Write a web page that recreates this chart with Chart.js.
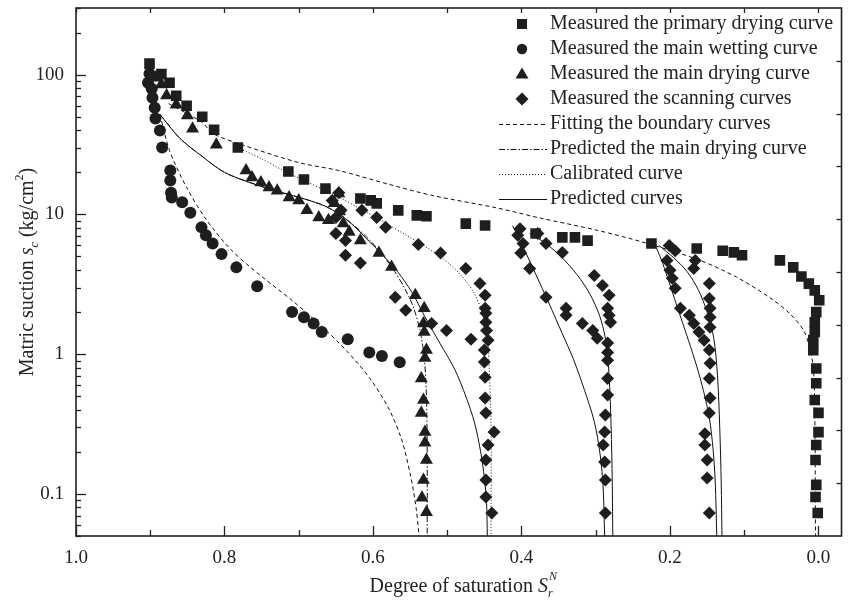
<!DOCTYPE html>
<html><head><meta charset="utf-8">
<script src="https://cdn.jsdelivr.net/npm/chart.js@4.4.0/dist/chart.umd.min.js"></script>
<style>html,body{margin:0;padding:0;background:#fff}canvas{display:block}</style>
</head><body>
<canvas id="c" width="849" height="600"></canvas>
<script>
// ---------- measured data ----------
const primaryDryingX = [0.901,0.885,0.874,0.865,0.851,0.830,0.814,0.782,0.714,0.693,0.664,0.617,0.603,0.595,0.566,0.541,0.528,0.475,0.449,0.381,0.345,0.328,0.311,0.225,0.164,0.129,0.114,0.103,0.052,0.034,0.023,0.013,0.005,-0.001,0.003,0.005,0.005,0.007,0.007,0.003,0.003,0.005,0.0,0.0,0.003,0.004,0.003,0.004,0.001];
const primaryDryingY = [120,101,87.6,70.6,60,50,40.4,30.1,20.3,17.8,15.3,13,12.6,12,10.7,9.85,9.7,8.6,8.34,7.3,6.85,6.85,6.5,6.2,5.7,5.5,5.35,5.1,4.69,4.18,3.6,3.2,2.86,2.43,2.0,1.69,1.44,1.26,1.07,0.79,0.62,0.47,0.38,0.277,0.224,0.175,0.116,0.095,0.073];

const mainWettingX = [0.901,0.903,0.898,0.897,0.894,0.893,0.887,0.884,0.873,0.873,0.872,0.871,0.857,0.846,0.831,0.825,0.816,0.804,0.784,0.756,0.709,0.693,0.680,0.669,0.634,0.605,0.588,0.564];
const mainWettingY = [101.7,87.7,79.3,68.5,58.1,48.5,39.8,30.1,20.6,17.5,14.3,13.2,12.2,10.3,8.08,7.1,6.2,5.2,4.18,3.06,2.0,1.84,1.66,1.44,1.28,1.03,0.97,0.877];

const mainDryingX = [0.893,0.885,0.878,0.865,0.850,0.843,0.811,0.771,0.763,0.751,0.740,0.729,0.713,0.700,0.689,0.673,0.660,0.646,0.652,0.645,0.640,0.632,0.617,0.592,0.575,0.543,0.531,0.532,0.531,0.528,0.530,0.535,0.532,0.535,0.530,0.530,0.528,0.532,0.534,0.528];
const mainDryingY = [95,85,71,61,51,41,31.5,20.6,18.4,16.9,15.6,14.8,13.2,12.6,10.7,9.5,9.1,14.1,12,10.5,8.6,7.5,6.5,5.3,4.2,2.64,2.13,1.66,1.44,1.07,0.94,0.67,0.47,0.38,0.277,0.232,0.175,0.126,0.094,0.074];

const scanningX = [0.655,0.646,0.650,0.643,0.650,0.637,0.637,0.617,0.615,0.595,0.583,0.539,0.509,0.475,0.456,0.449,0.449,0.570,0.556,0.521,0.501,0.468,
  0.448,0.448,0.447,0.445,0.450,0.450,0.449,0.449,0.448,0.437,0.445,0.448,0.448,0.448,0.440,
  0.402,0.405,0.398,0.401,0.389,0.367,0.378,0.367,0.345,0.302,0.291,0.282,0.284,0.282,0.280,0.340,0.340,0.318,0.304,0.298,0.284,0.284,0.284,0.284,0.284,0.287,0.288,0.290,0.288,0.287,0.287,
  0.201,0.193,0.204,0.200,0.197,0.193,0.186,0.174,0.168,0.161,0.166,0.168,0.147,0.147,0.146,0.146,0.146,0.154,0.147,0.146,0.147,0.146,0.147,0.153,0.153,0.150,0.150,0.147];
const scanningY = [12.6,14.3,9.5,10.7,7.3,6.5,5.1,4.5,10.7,9.5,8.1,6.1,5.3,4.1,3.2,2.64,2.13,2.55,2.06,1.66,1.48,1.28,
  1.96,1.69,1.48,1.26,1.07,0.88,0.685,0.485,0.38,0.277,0.224,0.175,0.126,0.095,0.073,
  7.9,7.1,6.2,5.3,4.1,2.55,7.3,6.2,5.35,3.66,3.1,2.64,2.13,1.9,1.69,2.13,1.9,1.66,1.48,1.3,1.2,1.03,0.906,0.67,0.51,0.367,0.277,0.224,0.169,0.126,0.073,
  6.0,5.5,4.69,3.98,3.5,2.96,2.13,1.9,1.66,1.44,4.69,4.1,3.2,2.5,2.13,1.84,1.56,1.26,1.07,0.86,0.67,0.485,0.38,0.27,0.224,0.175,0.13,0.073];

// ---------- model curves ----------
const fitPrimaryX = [0.875,0.830,0.816,0.780,0.700,0.646,0.580,0.521,0.432,0.378,0.298,0.235,0.160,0.110,0.066,0.039,0.020,0.012,0.007,0.005,0.004];
const fitPrimaryY = [62,45.5,38,32,23.5,20.6,16.5,13.7,11.1,9.5,7.7,6.3,4.7,3.55,2.55,1.96,1.48,1.12,0.8,0.4,0.05];
const fitWettingX = [0.887,0.874,0.851,0.824,0.790,0.750,0.710,0.670,0.635,0.605,0.580,0.562,0.550,0.542,0.538];
const fitWettingY = [52,28.6,15.6,9.1,5.5,3.6,2.45,1.6,1.05,0.68,0.42,0.25,0.14,0.08,0.05];
const predMainDryingX = [0.887,0.860,0.830,0.800,0.760,0.720,0.690,0.665,0.645,0.625,0.605,0.588,0.572,0.558,0.546,0.537,0.531,0.528,0.527,0.527];
const predMainDryingY = [52,35,26,20,16.5,14.2,12.8,11.5,10,8.3,6.6,5.2,4.0,3.0,2.2,1.5,0.95,0.5,0.2,0.05];
const calibratedX = [0.782,0.750,0.720,0.696,0.664,0.640,0.620,0.600,0.580,0.555,0.530,0.505,0.482,0.465,0.453,0.446,0.443,0.441,0.441];
const calibratedY = [30,25,20.5,17.8,14.8,12.8,11.2,9.8,8.5,7.1,5.9,4.8,3.7,2.8,2.0,1.3,0.7,0.3,0.05];
const predictedAX = [0.887,0.860,0.830,0.800,0.760,0.720,0.690,0.665,0.645,0.625,0.605,0.585,0.567,0.548,0.530,0.510,0.490,0.475,0.463,0.455,0.450,0.447,0.446];
const predictedAY = [52,35,26,20,16.5,14.2,12.8,11.5,10,8.2,6.4,5.0,3.9,2.8,1.85,1.2,0.78,0.5,0.32,0.2,0.13,0.085,0.05];
const predictedBX = [0.412,0.400,0.387,0.375,0.362,0.345,0.330,0.315,0.302,0.294,0.290,0.288];
const predictedBY = [8.3,6.2,4.4,3.2,2.25,1.4,0.92,0.55,0.33,0.19,0.11,0.05];
const predictedCX = [0.389,0.369,0.347,0.325,0.308,0.295,0.287,0.283,0.280,0.278,0.277];
const predictedCY = [7.3,6.3,5.0,3.7,2.7,1.9,1.3,0.85,0.4,0.15,0.05];
const predictedDX = [0.221,0.212,0.203,0.194,0.185,0.175,0.164,0.155,0.147,0.142,0.139,0.137];
const predictedDY = [6.2,4.8,3.5,2.5,1.8,1.25,0.82,0.55,0.35,0.21,0.12,0.05];
const predictedEX = [0.215,0.195,0.177,0.162,0.150,0.141,0.136,0.133,0.131,0.130];
const predictedEY = [6.0,4.9,3.9,2.9,2.0,1.3,0.7,0.3,0.12,0.05];

// ---------- ticks / labels ----------
const xTickValues = [1.0,0.8,0.6,0.4,0.2,0.0];
const xTickLabels = ['1.0','0.8','0.6','0.4','0.2','0.0'];
const yTickValues = [0.1,1,10,100];
const yTickLabels = ['0.1','1','10','100'];
const legendLabels = ['Measured the primary drying curve','Measured the main wetting curve','Measured the main drying curve','Measured the scanning curves','Fitting the boundary curves','Predicted the main drying curve','Calibrated curve','Predicted curves'];

const pts = (xs, ys) => xs.map((v, i) => ({x: v, y: ys[i]}));
const INK = '#1e1e1e';
const FONT = '"Liberation Serif","Times New Roman",serif';
const DASH = [4,3], DASHDOT = [6,2,1.5,2], DOT = [1,2];

function markerSet(xs, ys, style, r){
  return {data: pts(xs, ys), pointStyle: style, pointRadius: r, backgroundColor: INK, borderColor: INK, borderWidth: 0, showLine: false};
}
function lineSet(xs, ys, dash){
  return {data: pts(xs, ys), showLine: true, pointRadius: 0, borderColor: '#111', borderWidth: 1, borderDash: dash, tension: 0.3, fill: false};
}

const datasets = [
  markerSet(primaryDryingX, primaryDryingY, 'rect', 7.5),
  markerSet(mainWettingX, mainWettingY, 'circle', 6),
  markerSet(mainDryingX, mainDryingY, 'triangle', 7.5),
  markerSet(scanningX, scanningY, 'rectRot', 6.5),
  lineSet(fitPrimaryX, fitPrimaryY, DASH),
  lineSet(fitWettingX, fitWettingY, DASH),
  lineSet(predMainDryingX, predMainDryingY, DASHDOT),
  lineSet(calibratedX, calibratedY, DOT),
  lineSet(predictedAX, predictedAY, []),
  lineSet(predictedBX, predictedBY, []),
  lineSet(predictedCX, predictedCY, []),
  lineSet(predictedDX, predictedDY, []),
  lineSet(predictedEX, predictedEY, [])
];

function seg(ctx, x1, y1, x2, y2){ ctx.beginPath(); ctx.moveTo(x1, y1); ctx.lineTo(x2, y2); ctx.stroke(); }

const decor = {
  id: 'decor',
  afterDatasetsDraw(chart){
    const {ctx, chartArea: a, scales} = chart;
    const x = scales.x, y = scales.y, y2 = scales.y2;
    ctx.save();
    ctx.strokeStyle = '#222'; ctx.lineWidth = 1.6;
    ctx.strokeRect(a.left, a.top, a.right - a.left, a.bottom - a.top);
    ctx.lineWidth = 1.3;
    for (let k = 0; k <= 10; k++){
      const px = Math.round(x.getPixelForValue(k / 10)) + 0.5;
      const major = k % 2 === 0;
      seg(ctx, px, a.bottom, px, a.bottom - (major ? 10 : 6));
      seg(ctx, px, a.top, px, a.top + 5);
    }
    for (let d = -2; d <= 2; d++){
      for (let m = 1; m <= 9; m++){
        const v = m * Math.pow(10, d);
        if (v < y.min || v > y.max) continue;
        const py = Math.round(y.getPixelForValue(v)) + 0.5;
        seg(ctx, a.left, py, a.left + (m === 1 ? 10 : 5), py);
      }
    }
    for (let k = 1; k <= 9; k++){
      const py = Math.round(y2.getPixelForValue(k)) + 0.5;
      seg(ctx, a.right, py, a.right - 5, py);
    }
    ctx.fillStyle = '#222';
    ctx.font = '19px ' + FONT;
    ctx.textAlign = 'center'; ctx.textBaseline = 'middle';
    xTickValues.forEach((v, i) => ctx.fillText(xTickLabels[i], x.getPixelForValue(v), a.bottom + 22));
    ctx.textAlign = 'right';
    yTickValues.forEach((v, i) => ctx.fillText(yTickLabels[i], a.left - 12, y.getPixelForValue(v)));

    // x title
    ctx.textBaseline = 'alphabetic'; ctx.textAlign = 'left';
    ctx.font = '20px ' + FONT;
    const w1 = ctx.measureText('Degree of saturation ').width;
    ctx.font = 'italic 20px ' + FONT;
    const w2 = ctx.measureText('S').width;
    const total = w1 + w2 + 8;
    let tx = (a.left + a.right) / 2 - total / 2 + 4;
    const ty = 592;
    ctx.font = '20px ' + FONT; ctx.fillText('Degree of saturation ', tx, ty); tx += w1;
    ctx.font = 'italic 20px ' + FONT; ctx.fillText('S', tx, ty); tx += w2;
    ctx.font = 'italic 12px ' + FONT; ctx.fillText('r', tx, ty + 5); ctx.fillText('N', tx + 1, ty - 12);

    // y title
    ctx.save();
    ctx.translate(33, (a.top + a.bottom) / 2);
    ctx.rotate(-Math.PI / 2);
    const segs = [
      ['Matric suction ', '20px', 0], ['s', 'italic 20px', 0], ['c', 'italic 12px', 5],
      [' (kg/cm', '20px', 0], ['2', '12px', -10], [')', '20px', 0]
    ];
    let tw = 0;
    segs.forEach(s => { ctx.font = s[1] + ' ' + FONT; tw += ctx.measureText(s[0]).width; });
    let sx = -tw / 2;
    segs.forEach(s => { ctx.font = s[1] + ' ' + FONT; ctx.fillText(s[0], sx, s[2]); sx += ctx.measureText(s[0]).width; });
    ctx.restore();

    // legend
    const rowY = i => 24 + i * 25;
    const mx = 522;
    ctx.fillStyle = INK;
    ctx.fillRect(mx - 5, rowY(0) - 5, 10, 10);
    ctx.beginPath(); ctx.arc(mx, rowY(1), 5.2, 0, Math.PI * 2); ctx.fill();
    ctx.beginPath(); ctx.moveTo(mx, rowY(2) - 6.5); ctx.lineTo(mx + 6.5, rowY(2) + 4.5); ctx.lineTo(mx - 6.5, rowY(2) + 4.5); ctx.closePath(); ctx.fill();
    ctx.beginPath(); ctx.moveTo(mx, rowY(3) - 6.5); ctx.lineTo(mx + 6.5, rowY(3)); ctx.lineTo(mx, rowY(3) + 6.5); ctx.lineTo(mx - 6.5, rowY(3)); ctx.closePath(); ctx.fill();
    const dashes = [DASH, DASHDOT, DOT, []];
    ctx.strokeStyle = '#111'; ctx.lineWidth = 1;
    dashes.forEach((d, k) => {
      ctx.setLineDash(d);
      const yy = rowY(4 + k) + 0.5;
      seg(ctx, 499, yy, 547, yy);
    });
    ctx.setLineDash([]);
    ctx.fillStyle = '#222';
    ctx.font = '20px ' + FONT; ctx.textAlign = 'left'; ctx.textBaseline = 'middle';
    legendLabels.forEach((t, i) => ctx.fillText(t, 550, rowY(i)));
    ctx.restore();
  }
};

new Chart(document.getElementById('c'), {
  type: 'scatter',
  data: {datasets},
  options: {
    responsive: false, animation: false, devicePixelRatio: 1, events: [],
    layout: {padding: {left: 76, right: 4, top: 8, bottom: 64}},
    plugins: {legend: {display: false}, tooltip: {enabled: false}},
    scales: {
      x: {type: 'linear', reverse: true, min: -0.031, max: 1.0, display: false},
      y: {type: 'logarithmic', min: 0.05, max: 300, display: false},
      y2: {type: 'linear', min: 0, max: 10, display: false, position: 'right'}
    }
  },
  plugins: [decor]
});
</script>
</body></html>
